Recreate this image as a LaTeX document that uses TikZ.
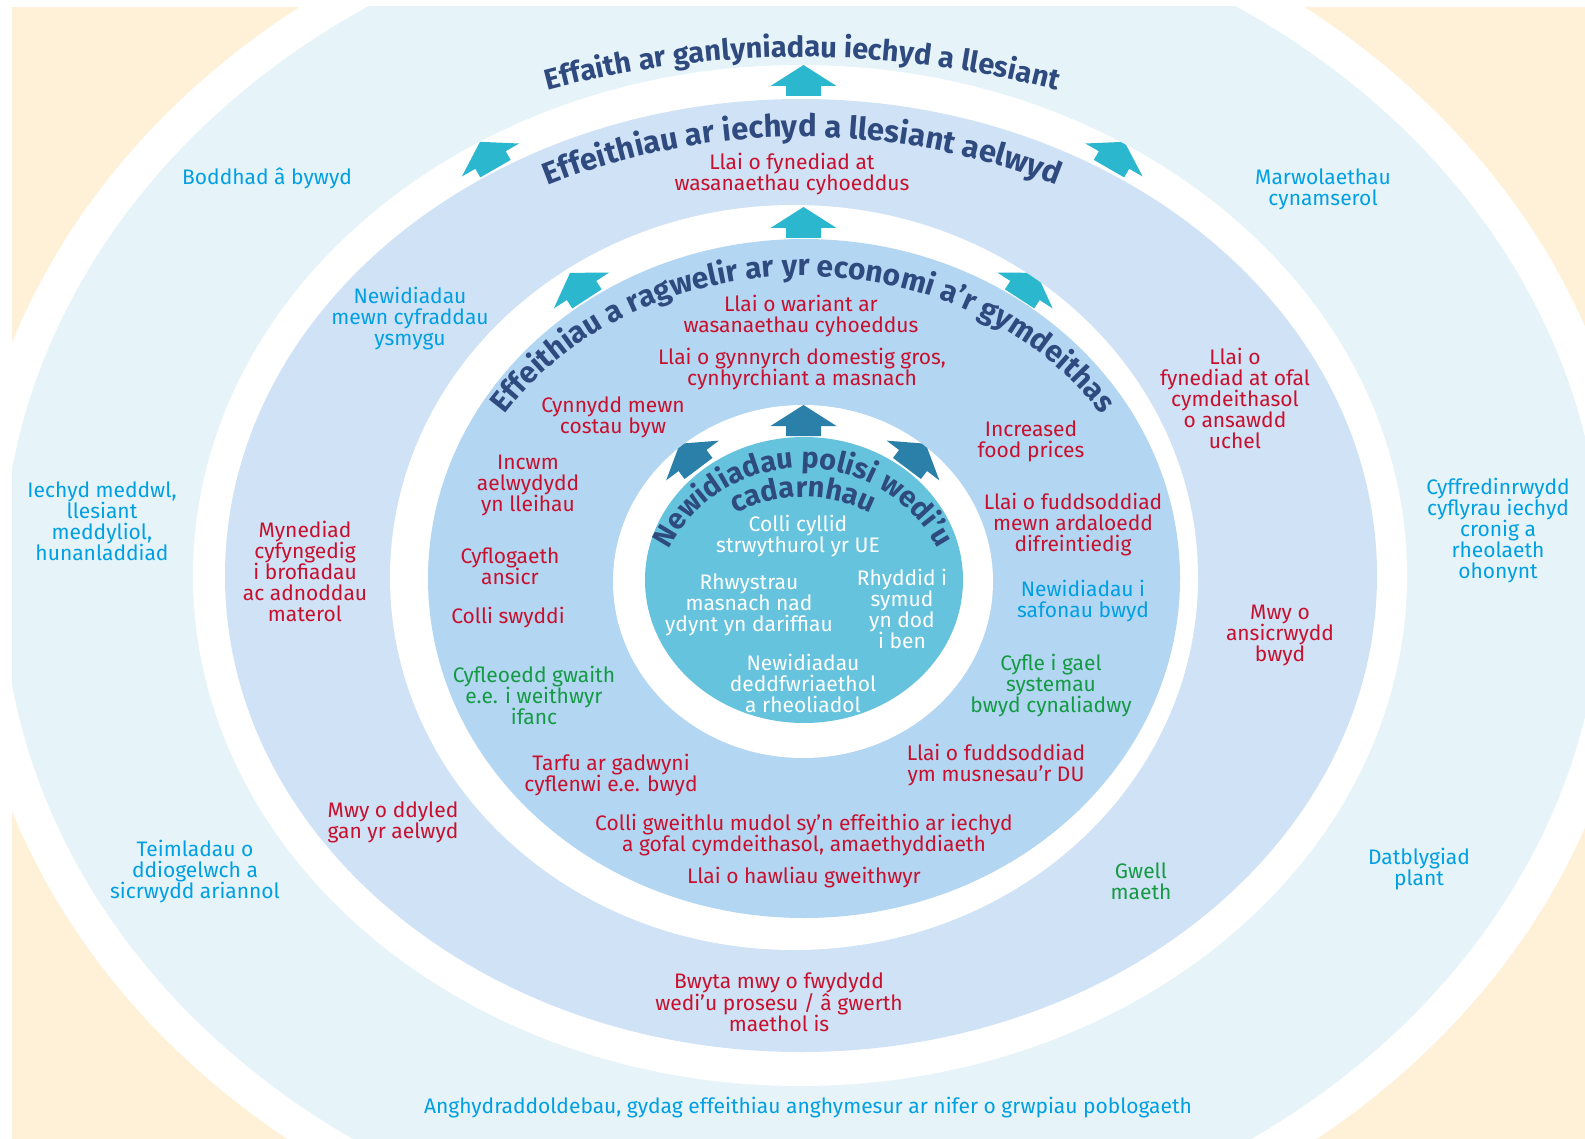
\documentclass[tikz,border=0pt]{standalone}
\usepackage{fontspec}
\setmainfont{Fira Sans}
\usetikzlibrary{decorations.text}
\definecolor{cream}{HTML}{FEF1D7}
\definecolor{pale}{HTML}{E6F4F9}
\definecolor{ringB}{HTML}{D0E2F5}
\definecolor{ringC}{HTML}{B3D6F2}
\definecolor{core}{HTML}{66C3DD}
\definecolor{arrowL}{HTML}{2BB7CE}
\definecolor{arrowD}{HTML}{2A80A8}
\definecolor{navy}{HTML}{2E4A7E}
\definecolor{txtred}{HTML}{C8102E}
\definecolor{txtblue}{HTML}{009FE3}
\definecolor{txtgreen}{HTML}{139A43}
\newcommand\labelfont{\fontsize{21}{21}\selectfont}
\newcommand\titlefont[1]{\fontsize{#1}{#1}\selectfont\bfseries}
\tikzset{
  lbl/.style={align=center, inner sep=0pt, font=\labelfont},
  txr/.style={text=txtred},
  txb/.style={text=txtblue},
  txg/.style={text=txtgreen},
  txw/.style={text=white},
  arrowup/.pic={\fill (0,-21) -- (33,0) -- (17.5,0) -- (17.5,10) -- (-17.5,10) -- (-17.5,0) -- (-33,0) -- cycle;},
  titlepath/.style={decorate, decoration={text along path, text align=center, text={#1}}}
}
\begin{document}
\begin{tikzpicture}[x=1pt,y=-1pt]
\useasboundingbox (0,0) rectangle (1585,1139);
\fill[white] (0,0) rectangle (1585,1139);
\begin{scope}
\clip (12,7) rectangle (1585,1139);
\fill[cream] (12,7) rectangle (1585,1139);
\fill[white] (802,577) ellipse [x radius=836, y radius=713];
\fill[pale] (802,577) ellipse [x radius=800, y radius=679];
\end{scope}
% household ring
\fill[white] (800,575.5) ellipse [x radius=607, y radius=510.5];
\begin{scope}
\clip (800,575.5) ellipse [x radius=607, y radius=510.5];
\pic[arrowL] at (803.5,86) {arrowup};
\pic[arrowL, rotate=30] at (490.5,160) {arrowup};
\pic[arrowL, rotate=-30] at (1114,160) {arrowup};
\end{scope}
\fill[ringB] (801,575.5) ellipse [x radius=576, y radius=476.5];
\fill[white] (794,577.5) ellipse [x radius=404, y radius=372.5];
\begin{scope}
\clip (794,577.5) ellipse [x radius=404, y radius=372.5];
\pic[arrowL] at (803.5,228) {arrowup};
\pic[arrowL, rotate=33] at (581.5,290.5) {arrowup};
\pic[arrowL, rotate=-33] at (1025,290.5) {arrowup};
\end{scope}
\fill[ringC] (804,578.5) ellipse [x radius=376, y radius=339.5];
\fill[white] (803,581.5) ellipse [x radius=190, y radius=176.5];
\begin{scope}
\clip (803,581.5) ellipse [x radius=190, y radius=176.5];
\pic[arrowD] at (803.5,426) {arrowup};
\pic[arrowD, rotate=37] at (692.5,460.5) {arrowup};
\pic[arrowD, rotate=-37] at (913,460.5) {arrowup};
\end{scope}
\fill[core] (804,580) ellipse [x radius=159, y radius=143];

% curved titles
\path[titlepath={|\titlefont{29}\color{navy}|Effaith ar ganlyniadau iechyd a llesiant}]
  (802,1048) ++(245:991) arc[start angle=245, end angle=295, radius=991];
\path[titlepath={|\titlefont{31}\color{navy}|Effeithiau ar iechyd a llesiant aelwyd}]
  (802,827) ++(225:690) arc[start angle=225, end angle=315, radius=690];
\path[titlepath={|\titlefont{30}\color{navy}|Effeithiau a ragwelir ar yr economi a'r gymdeithas}]
  (803,578) ++(185:355 and 302) arc[start angle=185, end angle=355, x radius=355, y radius=302];
\path[titlepath={|\titlefont{29}\color{navy}|Newidiadau polisi wedi'u}]
  (803,620) ++(160:152) arc[start angle=160, end angle=380, radius=152];
\path[titlepath={|\titlefont{29}\color{navy}|cadarnhau}]
  (803,647) ++(210:150) arc[start angle=210, end angle=330, radius=150];

% outer band
\node[lbl,txb] (boddhad) at (267,178) {Boddhad â bywyd};
\node[lbl,txb] (marwol) at (1323,189) {Marwolaethau\\cynamserol};
\node[lbl,txb] (iechydm) at (102,521) {Iechyd meddwl,\\llesiant\\meddyliol,\\hunanladdiad};
\node[lbl,txb] (cyffred) at (1498,531) {Cyffredinrwydd\\cyflyrau iechyd\\cronig a\\rheolaeth\\ohonynt};
\node[lbl,txb] (teimlad) at (195,872) {Teimladau o\\ddiogelwch a\\sicrwydd ariannol};
\node[lbl,txb] (datblyg) at (1419,869) {Datblygiad\\plant};
\node[lbl,txb] (anghyd) at (808,1108) {Anghydraddoldebau, gydag effeithiau anghymesur ar nifer o grwpiau poblogaeth};
% household band
\node[lbl,txr] (fynediad) at (792,174) {Llai o fynediad at\\wasanaethau cyhoeddus};
\node[lbl,txb] (ysmygu) at (410,319) {Newidiadau\\mewn cyfraddau\\ysmygu};
\node[lbl,txr] (gofal) at (1235,398) {Llai o\\fynediad at ofal\\cymdeithasol\\o ansawdd\\uchel};
\node[lbl,txr] (mynediad) at (305,571) {Mynediad\\cyfyngedig\\i brofiadau\\ac adnoddau\\materol};
\node[lbl,txr] (ansicr) at (1280,635) {Mwy o\\ansicrwydd\\bwyd};
\node[lbl,txr] (dyled) at (393,822) {Mwy o ddyled\\gan yr aelwyd};
\node[lbl,txg] (maeth) at (1141,881) {Gwell\\maeth};
\node[lbl,txr] (bwyta) at (779,1002) {Bwyta mwy o fwydydd\\wedi'u prosesu / â gwerth\\maethol is};
% economy band
\node[lbl,txr] (wariant) at (801,316) {Llai o wariant ar\\wasanaethau cyhoeddus};
\node[lbl,txr] (gynnyrch) at (802,369) {Llai o gynnyrch domestig gros,\\cynhyrchiant a masnach};
\node[lbl,txr] (costau) at (613,417) {Cynnydd mewn\\costau byw};
\node[lbl,txr] (food) at (1031,441) {Increased\\food prices};
\node[lbl,txr] (incwm) at (528,486) {Incwm\\aelwydydd\\yn lleihau};
\node[lbl,txr] (ardal) at (1073,525) {Llai o fuddsoddiad\\mewn ardaloedd\\difreintiedig};
\node[lbl,txr] (cyflog) at (510,566) {Cyflogaeth\\ansicr};
\node[lbl,txr] (swyddi) at (508,618) {Colli swyddi};
\node[lbl,txb] (safonau) at (1083,601) {Newidiadau i\\safonau bwyd};
\node[lbl,txg] (cyfleoedd) at (534,695) {Cyfleoedd gwaith\\e.e. i weithwyr\\ifanc};
\node[lbl,txg] (systemau) at (1051,686) {Cyfle i gael\\systemau\\bwyd cynaliadwy};
\node[lbl,txr] (tarfu) at (611,775) {Tarfu ar gadwyni\\cyflenwi e.e. bwyd};
\node[lbl,txr] (musnes) at (996,765) {Llai o fuddsoddiad\\ym musnesau'r DU};
\node[lbl,txr] (gweithlu) at (804,835) {Colli gweithlu mudol sy'n effeithio ar iechyd\\a gofal cymdeithasol, amaethyddiaeth};
\node[lbl,txr] (hawliau) at (804,878) {Llai o hawliau gweithwyr};
% core
\node[lbl,txw] (cyllid) at (798,536) {Colli cyllid\\strwythurol yr UE};
\node[lbl,txw] (rhwystrau) at (749,605) {Rhwystrau\\masnach nad\\ydynt yn dariffiau};
\node[lbl,txw] (rhyddid) at (902,609) {Rhyddid i\\symud\\yn dod\\i ben};
\node[lbl,txw] (deddf) at (803,683) {Newidiadau\\deddfwriaethol\\a rheoliadol};
\end{tikzpicture}
\end{document}
